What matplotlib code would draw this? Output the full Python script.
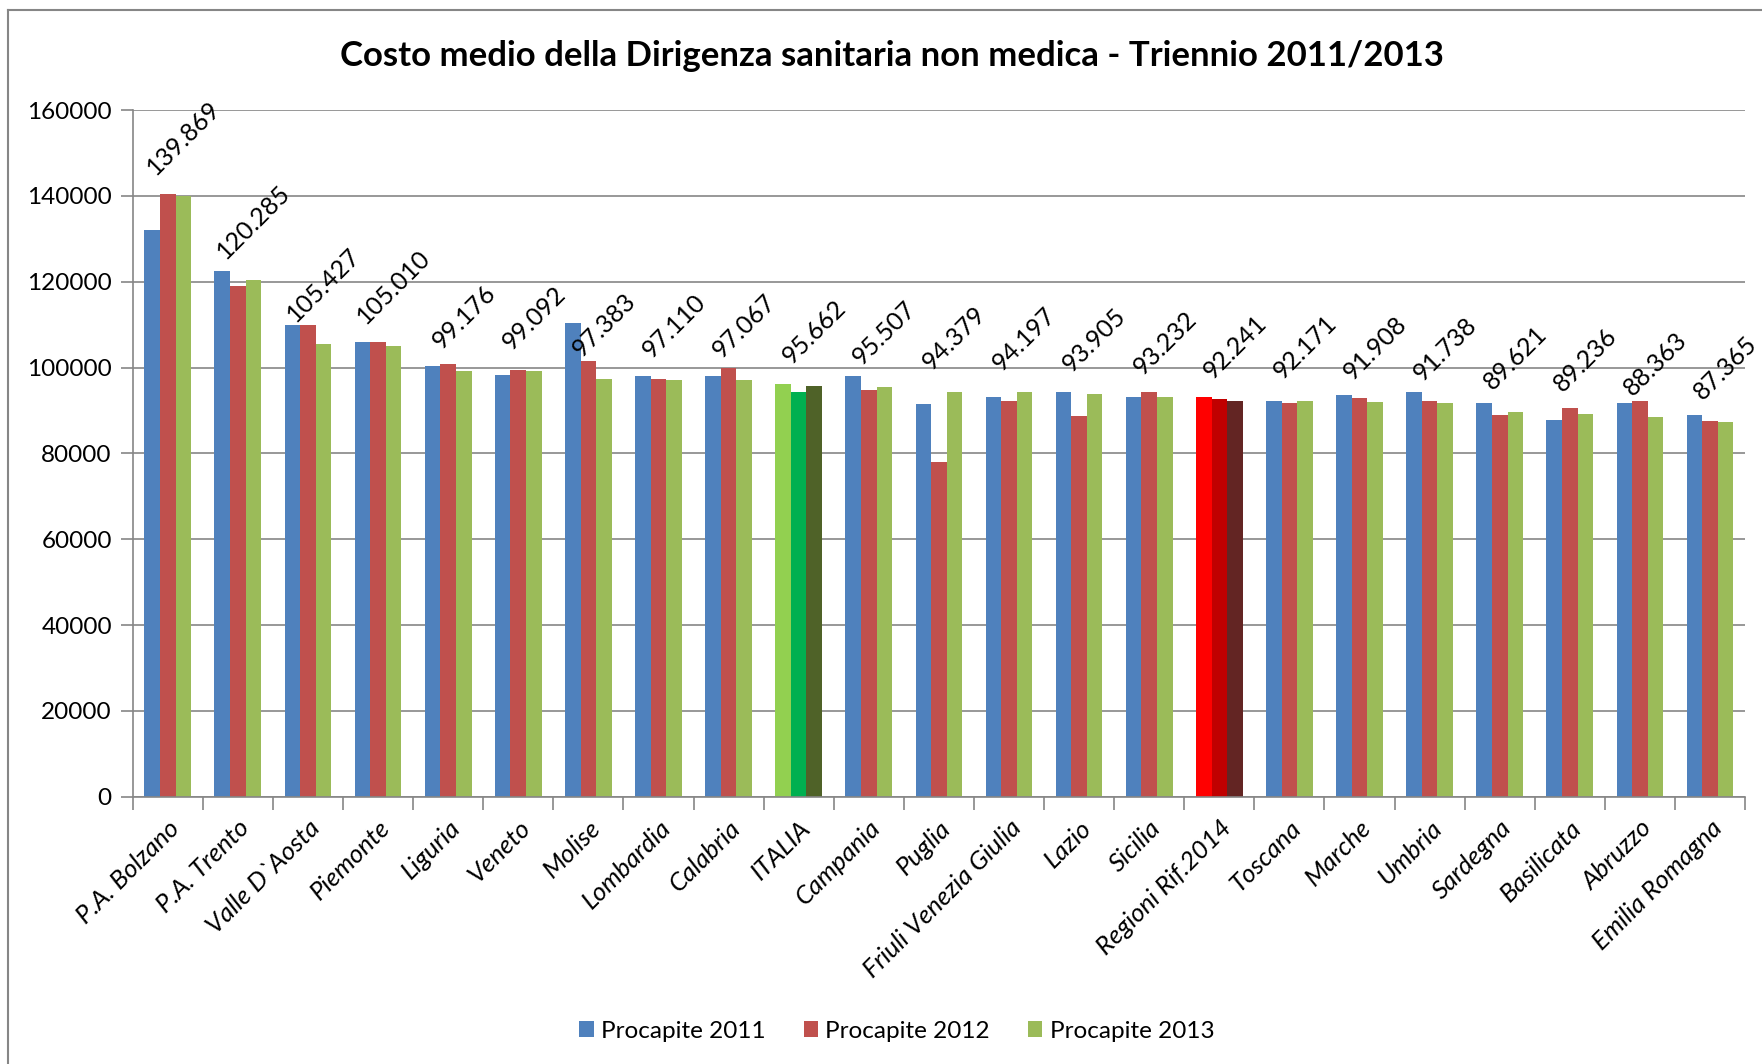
import matplotlib

matplotlib.use("Agg")
import matplotlib.pyplot as plt  # noqa: E402
import numpy as np  # noqa: E402
from matplotlib.lines import Line2D  # noqa: E402
from matplotlib.patches import Patch  # noqa: E402

# Excel-like palette
BLUE = "#4F81BD"
RED = "#C0504D"
GREEN = "#9BBB59"
GRID = "#868686"
TEXT = "#000000"

# ITALIA and Regioni Rif.2014 are highlighted with their own colours
HIGHLIGHT = {
    "ITALIA": ["#92D050", "#00B050", "#4F6228"],
    "Regioni Rif.2014": ["#FF0000", "#C00000", "#632523"],
}

regions = [
    "P.A. Bolzano", "P.A. Trento", "Valle D`Aosta", "Piemonte", "Liguria",
    "Veneto", "Molise", "Lombardia", "Calabria", "ITALIA", "Campania",
    "Puglia", "Friuli Venezia Giulia", "Lazio", "Sicilia", "Regioni Rif.2014",
    "Toscana", "Marche", "Umbria", "Sardegna", "Basilicata", "Abruzzo",
    "Emilia Romagna",
]

procapite_2011 = [
    132020, 122460, 109950, 106060, 100310, 98290, 110260, 97980, 97980,
    96190, 97980, 91440, 93230, 94400, 93230, 93230, 92300, 93540, 94400,
    91670, 87780, 91670, 89030,
]
procapite_2012 = [
    140410, 118890, 109950, 106060, 100930, 99460, 101560, 97430, 99920,
    94400, 94710, 77980, 92300, 88720, 94400, 92610, 91670, 92920, 92300,
    89030, 90510, 92300, 87470,
]
procapite_2013 = [
    139869, 120285, 105427, 105010, 99176, 99092, 97383, 97110, 97067,
    95662, 95507, 94379, 94197, 93905, 93232, 92241, 92171, 91908, 91738,
    89621, 89236, 88363, 87365,
]

series = [
    ("Procapite 2011", procapite_2011, BLUE),
    ("Procapite 2012", procapite_2012, RED),
    ("Procapite 2013", procapite_2013, GREEN),
]

FONT = ["Lato", "DejaVu Sans"]

plt.rcParams.update({
    "font.family": FONT,
    "figure.facecolor": "white",
    "axes.facecolor": "white",
    "axes.edgecolor": GRID,
    "axes.linewidth": 1.2,
    "text.color": TEXT,
    "xtick.color": GRID,
    "ytick.color": GRID,
    "xtick.labelcolor": TEXT,
    "ytick.labelcolor": TEXT,
})

fig = plt.figure(figsize=(17.62, 10.64), dpi=100)
ax = fig.add_axes([0.0753, 0.2512, 0.9151, 0.6454])

x = np.arange(len(regions))
w = 1 / 4.5  # gap width 150%

for k, (name, vals, col) in enumerate(series):
    cols = [HIGHLIGHT[r][k] if r in HIGHLIGHT else col for r in regions]
    ax.bar(x + (k - 1) * w, vals, width=w, color=cols, linewidth=0, zorder=2)

# data labels on the 2013 series
for xi, v in zip(x, procapite_2013):
    ax.annotate(f"{v:,.0f}".replace(",", "."), (xi + w, v),
                xytext=(0, 13), textcoords="offset points",
                rotation=45, ha="center", va="bottom", fontsize=18)

ax.set_xlim(-0.5, len(regions) - 0.5)
ax.set_ylim(0, 160000)
ax.set_yticks(np.arange(0, 160001, 20000))
ax.grid(axis="y", color=GRID, linewidth=1.2, zorder=0)
ax.set_axisbelow(True)
for s in ("top", "right"):
    ax.spines[s].set_visible(False)

ax.set_xticks(x)
ax.set_xticklabels(regions, rotation=45, ha="right", rotation_mode="anchor",
                   fontsize=18.5, style="italic")
ax.set_xticks(np.arange(len(regions) + 1) - 0.5, minor=True)
ax.tick_params(axis="x", which="major", length=0, pad=14)
ax.tick_params(axis="x", which="minor", length=9, width=1.2)
ax.tick_params(axis="y", length=9, width=1.2, labelsize=17.5, pad=6)

fig.text(0.506, 0.947, "Costo medio della Dirigenza sanitaria non medica - Triennio 2011/2013",
         ha="center", va="center", fontsize=25, fontweight="bold")

handles = [Patch(facecolor=c, edgecolor="none") for _, _, c in series]
fig.legend(handles, [n for n, _, _ in series], loc="center", bbox_to_anchor=(0.509, 0.031),
           ncol=3, frameon=False, fontsize=17.5, handlelength=0.6, handleheight=0.6,
           handletextpad=0.3, columnspacing=1.55)

# chart border (only left and top edges visible in the crop)
fig.add_artist(Line2D([0.0045, 0.0045], [0, 0.9906], color=GRID, linewidth=1.5))
fig.add_artist(Line2D([0.0045, 1], [0.9906, 0.9906], color=GRID, linewidth=1.5))

fig.savefig("out.png", dpi=100)
